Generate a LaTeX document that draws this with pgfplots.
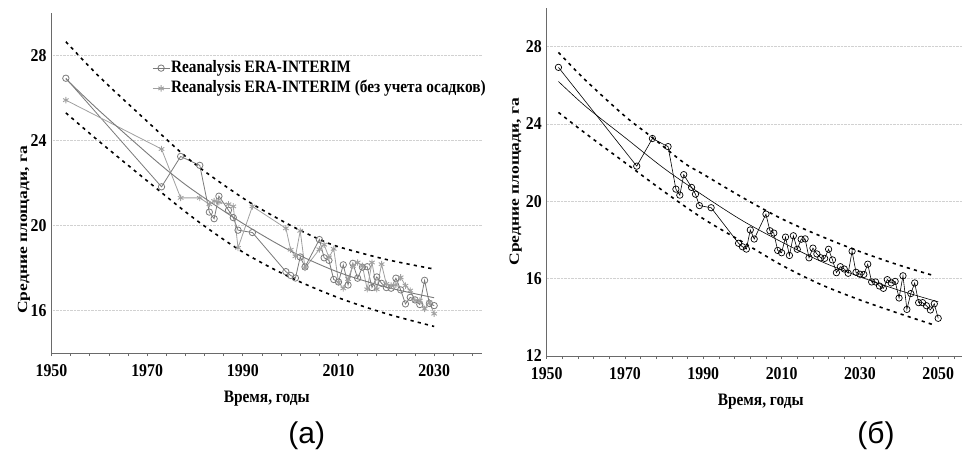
\documentclass[border=0pt]{standalone}
\usepackage{fontspec}
\setmainfont{Liberation Serif}[FakeStretch=0.88]
\newfontfamily\ylabfont{Liberation Serif}
\newfontfamily\capfont{Liberation Sans}
\usepackage{graphicx}
\usepackage{pgfplots}
\pgfplotsset{compat=1.18}
\usepackage{pgfplotstable}

\pgfplotstableread{
year val
1953 26.93
1973 21.82
1977 23.25
1981 22.83
1983 20.63
1984 20.32
1985 21.38
1987 20.72
1988 20.37
1989 19.78
1992 19.67
1999 17.83
2000 17.65
2001 17.53
2002 18.52
2003 18.05
2006 19.34
2007 18.48
2008 18.36
2009 17.46
2010 17.34
2011 18.15
2012 17.20
2013 18.22
2014 17.52
2015 18.04
2016 18.06
2017 17.08
2018 17.58
2019 17.28
2020 17.08
2021 17.05
2022 17.52
2023 16.97
2024 16.31
2025 16.62
2026 16.50
2027 16.28
2028 17.42
2029 16.33
2030 16.23
}\eraA

\pgfplotstableread{
year val
1953 25.90
1973 23.60
1977 21.30
1981 21.30
1983 21.00
1984 21.15
1985 21.10
1987 21.00
1988 20.90
1989 18.95
1992 20.90
1999 19.87
2000 18.86
2001 18.55
2002 19.75
2003 18.00
2006 18.88
2007 19.10
2008 18.50
2009 18.90
2010 17.33
2011 17.04
2012 17.48
2013 18.10
2014 18.26
2015 18.10
2016 17.00
2017 18.26
2018 17.00
2019 18.18
2020 17.25
2021 17.17
2022 17.20
2023 17.56
2024 17.17
2025 16.94
2026 16.47
2027 16.47
2028 16.08
2029 16.39
2030 15.85
}\eraNoPrec

\pgfplotstableread{
year val
1953 26.90
1960 25.40
1970 23.40
1975 22.45
1980 21.60
1990 20.10
2000 18.80
2010 17.80
2020 17.10
2030 16.60
}\trendA

\pgfplotstableread{
year val
1953 28.65
1960 27.00
1970 24.90
1977 23.45
1982 22.55
1991 21.15
2000 20.00
2006 19.35
2010 19.00
2020 18.40
2030 17.95
}\upA

\pgfplotstableread{
year val
1953 25.30
1960 23.95
1970 22.10
1980 20.30
1990 18.75
2000 17.55
2010 16.60
2020 15.85
2030 15.25
}\loA

\pgfplotstableread{
year val
1953 26.93
1973 21.82
1977 23.25
1981 22.83
1983 20.63
1984 20.32
1985 21.38
1987 20.72
1988 20.37
1989 19.78
1992 19.67
1999 17.83
2000 17.65
2001 17.53
2002 18.52
2003 18.05
2006 19.34
2007 18.48
2008 18.36
2009 17.46
2010 17.34
2011 18.15
2012 17.20
2013 18.22
2014 17.52
2015 18.04
2016 18.06
2017 17.08
2018 17.58
2019 17.28
2020 17.08
2021 17.05
2022 17.52
2023 16.97
2024 16.31
2025 16.62
2026 16.50
2027 16.28
2028 17.42
2029 16.33
2030 16.23
2031 16.22
2032 16.75
2033 15.83
2034 15.83
2035 15.62
2036 15.50
2037 15.95
2038 15.78
2039 15.86
2040 15.00
2041 16.15
2042 14.41
2043 15.23
2044 15.78
2045 14.76
2046 14.76
2047 14.60
2048 14.38
2049 14.70
2050 13.95
}\eraB

\pgfplotstableread{
year val
1953 26.20
1960 24.90
1970 23.30
1980 21.70
1990 20.30
2000 19.00
2010 17.90
2020 16.90
2030 16.10
2040 15.40
2050 14.80
}\trendB

\pgfplotstableread{
year val
1953 27.70
1960 26.25
1970 24.40
1977 23.30
1985 22.00
1990 21.40
2000 20.20
2010 19.10
2020 18.20
2030 17.40
2040 16.70
2049 16.15
}\upB

\pgfplotstableread{
year val
1953 24.60
1960 23.50
1970 22.00
1980 20.50
1990 19.10
2000 17.90
2010 16.70
2020 15.70
2030 14.90
2040 14.20
2049 13.60
}\loB

\definecolor{axgray}{HTML}{6A6A6A}
\definecolor{serA}{HTML}{7A7A7A}
\definecolor{serB}{HTML}{A0A0A0}

\newcommand{\ylabtext}{\scalebox{1}[0.8]{\ylabfont\fontsize{17.5}{20}\selectfont\bfseries Средние площади, га}}

\pgfplotsset{
  panel/.style={
    scale only axis,
    axis lines=left,
    axis line style={-, draw=axgray, line width=0.9pt},
    tick align=outside,
    clip=false,
    ymajorgrids=true,
    major grid style={densely dotted, draw=black!18, line width=0.6pt},
    ytick style={draw=none},
    xtick style={draw=axgray, line width=0.7pt},
    major tick length=3pt,
    minor tick length=3pt,
    ticklabel style={font=\fontsize{18}{21}\selectfont\bfseries},
    xticklabel style={yshift=-5pt},
    yticklabel style={xshift=1.5pt},
    /pgf/number format/assume math mode=true,
    /pgf/number format/1000 sep={},
    xlabel style={font=\fontsize{17.5}{20}\selectfont\bfseries},
    xlabel={Время, годы},
    ylabel={\ylabtext},
    bnd/.style={black, line width=1.6pt, dash pattern=on 3.2pt off 4.2pt, smooth},
  }
}

\begin{document}
\begin{tikzpicture}
\useasboundingbox (0pt,0pt) rectangle (964pt,459pt);
% ---------------- panel (a)
\begin{axis}[panel,
  at={(51.5pt,106pt)}, anchor=south west,
  width=430.5pt, height=340pt,
  xmin=1950, xmax=2040, ymin=14, ymax=30,
  xtick={1950,1970,1990,2010,2030},
  minor xtick={1954,1958,...,2040},
  ytick={16,20,24,28},
  xlabel style={at={(rel axis cs:0.5,-0.135)}, anchor=center},
  ylabel style={at={(rel axis cs:-0.064,0.362)}, anchor=center},
  legend style={at={(rel axis cs:0.2334,0.862)}, anchor=north west, draw=none, fill=none,
     font=\fontsize{17.4}{19}\selectfont\bfseries, row sep=4.3pt, inner sep=0pt,
     nodes={inner sep=1pt, text height=11pt, text depth=3pt}},
  legend cell align=left,
]
\addplot[serA, line width=0.8pt, mark=o, mark size=3.2pt, mark options={fill=white, line width=0.8pt}] table[x=year,y=val]{\eraA};
\addlegendentry{Reanalysis ERA-INTERIM}
\addplot[serB, line width=0.8pt, mark=asterisk, mark size=3.2pt, mark options={line width=0.9pt}] table[x=year,y=val]{\eraNoPrec};
\addlegendentry{Reanalysis ERA-INTERIM (без учета осадков)}
\addplot[serA, line width=0.9pt, smooth, forget plot] table[x=year,y=val]{\trendA};
\addplot[bnd, forget plot] table[x=year,y=val]{\upA};
\addplot[bnd, forget plot] table[x=year,y=val]{\loA};
\node[font=\capfont\fontsize{30}{34}\selectfont] at (rel axis cs:0.593,-0.244) {(а)};
\end{axis}
% ---------------- panel (б)
\begin{axis}[panel,
  at={(546.7pt,103pt)}, anchor=south west,
  width=415pt, height=348pt,
  xmin=1950, xmax=2056, ymin=12, ymax=30,
  xtick={1950,1970,1990,2010,2030,2050},
  minor xtick={1954,1958,...,2054},
  ytick={12,16,20,24,28},
  xlabel style={at={(rel axis cs:0.5157,-0.131)}, anchor=center},
  ylabel style={at={(rel axis cs:-0.0745,0.501)}, anchor=center},
]
\addplot[black, line width=0.6pt, mark=o, mark size=3.2pt, mark options={fill=white, line width=0.7pt}] table[x=year,y=val]{\eraB};
\addplot[black, line width=0.6pt, smooth] table[x=year,y=val]{\trendB};
\addplot[bnd] table[x=year,y=val]{\upB};
\addplot[bnd] table[x=year,y=val]{\loB};
\node[font=\capfont\fontsize{30}{34}\selectfont] at (rel axis cs:0.7935,-0.23) {(б)};
\end{axis}
\end{tikzpicture}
\end{document}
